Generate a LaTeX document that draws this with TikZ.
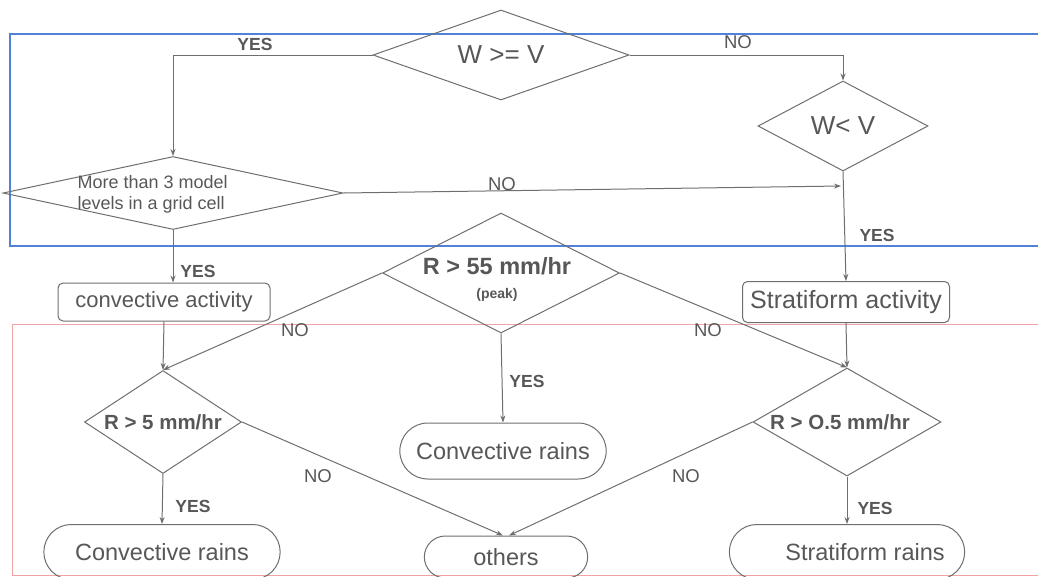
\documentclass[tikz,border=0pt]{standalone}
\usepackage{fontspec}
\setmainfont{Liberation Sans}
\usepackage{xcolor}
\usetikzlibrary{arrows.meta,shapes,positioning,calc}
\definecolor{linegray}{HTML}{6E6E6E}
\definecolor{textgray}{HTML}{575757}
\definecolor{frameblue}{HTML}{4F82D8}
\definecolor{framered}{HTML}{F0A3A3}
\newcommand{\fs}[2]{\fontsize{#1}{#2}\selectfont}

\begin{document}
\begin{tikzpicture}[x = 1pt, y = -1pt, >={Stealth[length=7pt,width=5pt]},
  dec/.style = {diamond, draw = linegray, line width = 1pt, inner sep = 0pt, text = textgray},
  act/.style = {rectangle, rounded corners = 5pt, draw = linegray, line width = 1pt, text = textgray},
  rain/.style = {rounded rectangle, draw = linegray, line width = 1pt, text = textgray, font = \fs{23.5}{28}},
  yeslbl/.style = {font = \bfseries\fs{17.5}{20}, text = textgray},
  nolbl/.style = {font = \fs{18.5}{21}, text = textgray},
  flow/.style = {->, draw = linegray, line width = 1pt}]
\useasboundingbox (0,0) rectangle (1038,576);
\clip (0,0) rectangle (1038,576);
\draw[frameblue, line width = 1.2pt] (10,34) rectangle (1050,246);
\draw[framered, line width = 1pt] (12,324) rectangle (1050,575);
\node[dec, aspect = 2.84, minimum width = 256, minimum height = 90, font = \fs{26}{30}] (wv) at (501,55) {W >= V};
\node[dec, aspect = 1.89, minimum width = 170, minimum height = 90, font = \fs{26}{30}] (wlv) at (843,126) {W< V};
\node[dec, aspect = 4.66, minimum width = 340, minimum height = 73] (more) at (173,193) {};
\node[font = \fs{18}{21}, text = textgray, align = left, anchor = west] (moretxt) at (74,194) {More than 3 model\\levels in a grid cell};
\node[act, minimum width = 212, minimum height = 38, font = \fs{22}{26}] (cvact) at (164,302) {convective activity};
\node[act, minimum width = 207, minimum height = 41, font = \fs{25}{30}] (stact) at (846,302) {Stratiform activity};
\node[dec, aspect = 1.975, minimum width = 237, minimum height = 120] (r55) at (501,273) {};
\node[font = \bfseries\fs{23.5}{24}, text = textgray, align = center] (r55txt) at (497,279) {R > 55 mm/hr\\{\fs{14}{16}(peak)}};
\node[dec, aspect = 1.52, minimum width = 157, minimum height = 103, font = \bfseries\fs{20.5}{24}] (r5) at (163,422) {R > 5 mm/hr};
\node[dec, aspect = 1.74, minimum width = 188, minimum height = 108, font = \bfseries\fs{20.5}{24}] (r05) at (847,422) {\hspace*{-14pt}R > O.5 mm/hr};
\node[rain, minimum width = 213, minimum height = 56] (crain) at (503,451) {Convective rains};
\node[rain, minimum width = 243, minimum height = 55] (lrain) at (162,552) {Convective rains};
\node[rain, minimum width = 242, minimum height = 55] (srain) at (847,552) {\hspace*{36pt}Stratiform rains};
\node[rain, minimum width = 170, minimum height = 42] (others) at (506,557) {others};
\coordinate (nojoin) at (841,186);
\draw[flow] (wv.west) -| (more.north);
\draw[flow] (wv.east) -| (wlv.north);
\draw[flow] (more.east) -- (nojoin);
\draw[flow] (wlv.south) -- (stact.north);
\draw[flow] (more.south) -- (more.south |- cvact.north);
\draw[flow] (cvact.south) -- (r5.north);
\draw[flow] (stact.south) -- (r05.north);
\draw[flow] (r55.west) -- (r5.north);
\draw[flow] (r55.east) -- (r05.north);
\draw[flow] (r55.south) -- (crain.north);
\draw[flow] (r5.south) -- (lrain.north);
\draw[flow] (r05.south) -- (srain.north);
\draw[flow] (r5.east) -- ([xshift=-3pt]others.north);
\draw[flow] (r05.west) -- ([xshift=3pt]others.north);
\node[yeslbl] (yes1) at (255,44) {YES};
\node[nolbl] (no1) at (738,42) {NO};
\node[nolbl] (no2) at (502,184) {NO};
\node[yeslbl] (yes2) at (877,235) {YES};
\node[yeslbl] (yes3) at (198,271) {YES};
\node[nolbl] (no3) at (295,330) {NO};
\node[nolbl] (no4) at (708,330) {NO};
\node[yeslbl] (yes4) at (527,381) {YES};
\node[nolbl] (no5) at (318,476) {NO};
\node[nolbl] (no6) at (686,476) {NO};
\node[yeslbl] (yes5) at (193,506) {YES};
\node[yeslbl] (yes6) at (875,508) {YES};
\end{tikzpicture}
\end{document}
